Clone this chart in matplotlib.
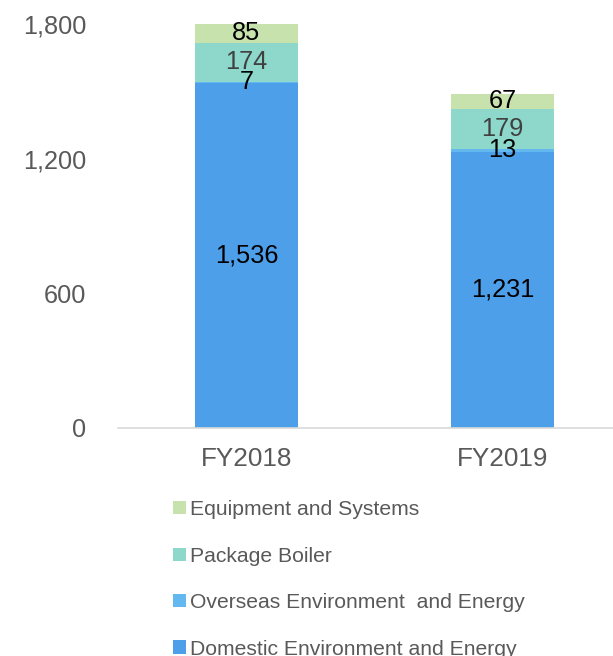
import matplotlib.pyplot as plt
from matplotlib.patches import Patch
import numpy as np

plt.rcParams['font.family'] = ['Liberation Sans', 'DejaVu Sans']

years = ['FY2018', 'FY2019']
domestic = [1536, 1231]
overseas = [7, 13]
boiler = [174, 179]
equipment = [85, 67]

series = [
    ('Domestic Environment and Energy', domestic, '#4E9FEA', 'black'),
    ('Overseas Environment  and Energy', overseas, '#63B9EF', 'black'),
    ('Package Boiler', boiler, '#8DD7CB', '#404040'),
    ('Equipment and Systems', equipment, '#C8E2AE', 'black'),
]

fig = plt.figure(figsize=(6.13, 6.56), dpi=100)
ax = fig.add_axes([0.1925, 0.3476, 0.8075, 0.6159])

x = np.arange(len(years))
bottom = np.zeros(len(years))
handles = []
for name, vals, color, tcolor in series:
    vals = np.array(vals, dtype=float)
    ax.bar(x, vals, width=0.40, bottom=bottom, color=color, edgecolor='none')
    for xi, b, v in zip(x, bottom, vals):
        ax.text(xi, b + v / 2, f'{int(v):,}', ha='center', va='center',
                fontsize=18.3, color=tcolor)
    handles.append(Patch(facecolor=color, edgecolor='none', label=name))
    bottom += vals

ax.set_ylim(0, 1800)
ax.set_xlim(-0.502, 1.432)
ax.set_yticks([0, 600, 1200, 1800])
ax.set_yticklabels(['0', '600', '1,200', '1,800'])
ax.set_xticks(x)
ax.set_xticklabels(years)
ax.tick_params(axis='both', length=0, labelsize=18.2, colors='#595959')
ax.tick_params(axis='x', labelsize=18.8, pad=14)
ax.tick_params(axis='y', pad=23)
for s in ['top', 'right', 'left']:
    ax.spines[s].set_visible(False)
ax.spines['bottom'].set_color('#D9D9D9')
ax.spines['bottom'].set_linewidth(1.2)

fig.legend(handles=handles[::-1], loc='upper left', bbox_to_anchor=(0.282, 0.2375),
           frameon=False, fontsize=15.2, handlelength=0.6, handleheight=0.6,
           handletextpad=0.2, labelspacing=1.3, borderpad=0, borderaxespad=0,
           labelcolor='#595959')

fig.savefig('out.png', dpi=100)
